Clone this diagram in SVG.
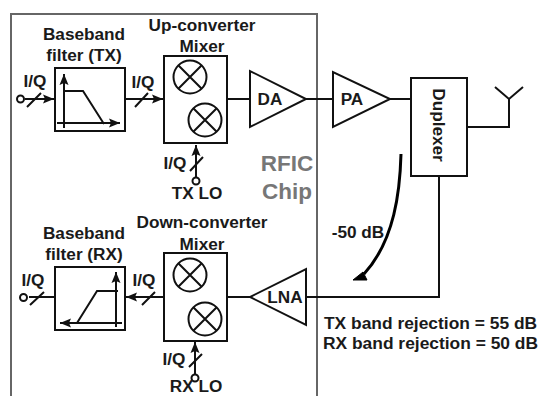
<svg xmlns="http://www.w3.org/2000/svg" width="538" height="396" viewBox="0 0 538 396">
<defs>
<marker id="ah" markerUnits="userSpaceOnUse" markerWidth="12" markerHeight="10" refX="11" refY="5" orient="auto"><path d="M0,0.5 L11,5 L0,9.5 L2,5 Z" fill="#111"/></marker>
</defs>
<style>
text{font-family:"Liberation Sans",Arial,sans-serif;font-weight:bold;font-size:17.2px;fill:#1a1a1a;text-anchor:middle}
.b{fill:#fff;stroke:#111;stroke-width:2}
.l{fill:none;stroke:#111;stroke-width:2}
.a{fill:none;stroke:#111;stroke-width:2;marker-end:url(#ah)}
.g{fill:#777;font-size:22.5px}
.s{text-anchor:start;font-size:17.4px}
</style>
<rect width="538" height="396" fill="#fff"/>
<path id="chip" d="M11,396 V14 H317 V396" fill="none" stroke="#666" stroke-width="2"/>
<text class="g" x="287" y="171">RFIC</text>
<text class="g" x="287" y="199">Chip</text>
<g id="connectors">
<path class="a" d="M25,99 H54"/>
<path class="a" d="M125,99 H163"/>
<path class="l" d="M227,99 H250"/>
<path class="l" d="M306,99 H333"/>
<path class="l" d="M390,99 H411"/>
<path class="l" d="M467,127 H509 V99 M495,87 L509,99 L523,87"/>
<path class="l" d="M439,176 V297 H306"/>
<path class="a" d="M196,179 V145"/>
<path class="l" d="M250,297 H227"/>
<path class="a" d="M164,297 H126"/>
<path class="l" d="M55,297 H29"/>
<path class="a" d="M195,375 V342"/>
<path class="l" d="M27,107 L41,93 M135,107 L148,93 M190,171 L203,157 M30,305 L44,292 M142,305 L155,292 M189,367 L202,354"/>
<path d="M401,154 C400,190 395,240 364,274" fill="none" stroke="#000" stroke-width="3"/>
<path d="M353,280 L363,272 L367,280 Z" fill="#000" stroke="#000"/>
</g>
<g id="io">
<circle class="b" cx="20.500" cy="99" r="3.500"/>
<circle class="b" cx="196" cy="181" r="3.500"/>
<circle class="b" cx="23.500" cy="297.500" r="3.500"/>
<circle class="b" cx="195" cy="378" r="3.500"/>
</g>
<g id="filter-tx">
<rect class="b" x="55" y="68" width="70" height="63"/>
<path class="a" d="M64,128 V74"/>
<path class="a" d="M57,123 H120"/>
<path class="l" d="M63,91 H83 L104,124"/>
<text x="84" y="40">Baseband</text>
<text x="84" y="61">filter (TX)</text>
</g>
<g id="mixer-tx">
<rect class="b" x="164" y="56" width="63" height="87"/>
<g class="l"><circle cx="190" cy="77" r="16.500"/><path d="M178.300,65.300 L201.700,88.700 M201.700,65.300 L178.300,88.700"/>
<circle cx="205" cy="120" r="16.500"/><path d="M193.300,108.300 L216.700,131.700 M216.700,108.300 L193.300,131.700"/></g>
<text x="202" y="31">Up-converter</text>
<text x="202" y="52">Mixer</text>
</g>
<g id="da"><path class="b" d="M250,71 V127 L306,99 Z"/><text x="270" y="105">DA</text></g>
<g id="pa"><path class="b" d="M333,72 V127 L390,99 Z"/><text x="352" y="105">PA</text></g>
<g id="duplexer"><rect class="b" x="411" y="78" width="56" height="98"/><text transform="translate(433,125) rotate(90)">Duplexer</text></g>
<g id="lna"><path class="b" d="M306,269 V325 L250,297 Z"/><text x="285" y="303">LNA</text></g>
<g id="filter-rx">
<rect class="b" x="55" y="267" width="70" height="63"/>
<path class="a" d="M116,327 V272"/>
<path class="a" d="M122,323 H60"/>
<path class="l" d="M77,323 L97,291 H118"/>
<text x="84" y="239">Baseband</text>
<text x="84" y="260">filter (RX)</text>
</g>
<g id="mixer-rx">
<rect class="b" x="164" y="253" width="63" height="88"/>
<g class="l"><circle cx="190" cy="275" r="16.500"/><path d="M178.300,263.300 L201.700,286.700 M201.700,263.300 L178.300,286.700"/>
<circle cx="205" cy="319" r="16.500"/><path d="M193.300,307.300 L216.700,330.700 M216.700,307.300 L193.300,330.700"/></g>
<text x="202" y="228">Down-converter</text>
<text x="202" y="250">Mixer</text>
</g>
<g id="labels">
<text x="35" y="87">I/Q</text>
<text x="143" y="88">I/Q</text>
<text x="175" y="169">I/Q</text>
<text x="197" y="199">TX LO</text>
<text x="33" y="286">I/Q</text>
<text x="144" y="286">I/Q</text>
<text x="174" y="365">I/Q</text>
<text x="196" y="392">RX LO</text>
<text x="358" y="238">-50 dB</text>
<text class="s" x="324" y="329">TX band rejection = 55 dB</text>
<text class="s" x="323" y="349">RX band rejection = 50 dB</text>
</g>
</svg>
